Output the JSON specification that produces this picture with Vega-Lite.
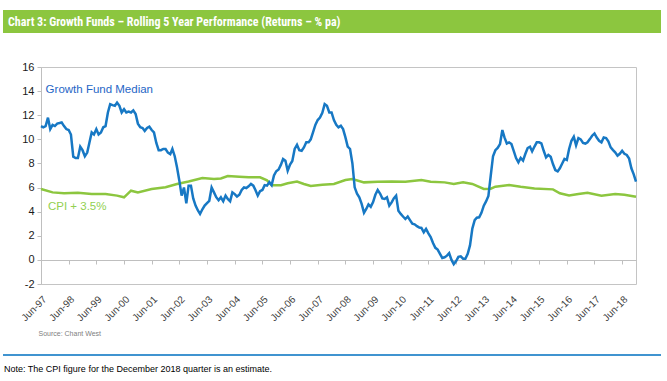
{
  "$schema": "https://vega.github.io/schema/vega-lite/v6.json",
  "padding": {"left": 2, "top": 10, "right": 0, "bottom": 0},
  "background": "white",
  "autosize": {"type": "pad"},
  "config": {"font": "Liberation Sans", "axisY": {"labelOverlap": false}},
  "datasets": {
    "fund": [
      {"date":"1997-06-01","value":11.1},{"date":"1997-07-01","value":11.0},{"date":"1997-08-01","value":11.1},{"date":"1997-09-01","value":11.8},{"date":"1997-10-01","value":10.85},{"date":"1997-11-01","value":11.2},{"date":"1997-12-01","value":11.1},
      {"date":"1998-01-01","value":11.3},{"date":"1998-02-01","value":11.35},{"date":"1998-03-01","value":11.4},{"date":"1998-04-01","value":11.1},{"date":"1998-05-01","value":10.85},{"date":"1998-06-01","value":10.77},{"date":"1998-07-01","value":10.4},{"date":"1998-08-01","value":8.56},{"date":"1998-09-01","value":8.45},{"date":"1998-10-01","value":8.45},{"date":"1998-11-01","value":9.39},{"date":"1998-12-01","value":9.1},
      {"date":"1999-01-01","value":8.6},{"date":"1999-02-01","value":8.9},{"date":"1999-03-01","value":9.7},{"date":"1999-04-01","value":10.57},{"date":"1999-05-01","value":10.4},{"date":"1999-06-01","value":10.85},{"date":"1999-07-01","value":10.4},{"date":"1999-08-01","value":10.57},{"date":"1999-09-01","value":11.0},{"date":"1999-10-01","value":11.1},{"date":"1999-11-01","value":12.23},{"date":"1999-12-01","value":12.92},
      {"date":"2000-01-01","value":12.84},{"date":"2000-02-01","value":12.78},{"date":"2000-03-01","value":13.05},{"date":"2000-04-01","value":12.78},{"date":"2000-05-01","value":12.23},{"date":"2000-06-01","value":12.5},{"date":"2000-07-01","value":12.23},{"date":"2000-08-01","value":12.3},{"date":"2000-09-01","value":12.23},{"date":"2000-10-01","value":12.4},{"date":"2000-11-01","value":12.1},{"date":"2000-12-01","value":11.3},
      {"date":"2001-01-01","value":11.0},{"date":"2001-02-01","value":10.94},{"date":"2001-03-01","value":10.7},{"date":"2001-04-01","value":10.94},{"date":"2001-05-01","value":11.05},{"date":"2001-06-01","value":10.77},{"date":"2001-07-01","value":10.57},{"date":"2001-08-01","value":9.7},{"date":"2001-09-01","value":9.1},{"date":"2001-10-01","value":9.1},{"date":"2001-11-01","value":9.2},{"date":"2001-12-01","value":9.2},
      {"date":"2002-01-01","value":8.9},{"date":"2002-02-01","value":8.77},{"date":"2002-03-01","value":9.2},{"date":"2002-04-01","value":8.6},{"date":"2002-05-01","value":7.68},{"date":"2002-06-01","value":6.57},{"date":"2002-07-01","value":5.33},{"date":"2002-08-01","value":6.0},{"date":"2002-09-01","value":4.7},{"date":"2002-10-01","value":6.16},{"date":"2002-11-01","value":6.16},{"date":"2002-12-01","value":5.1},
      {"date":"2003-01-01","value":4.5},{"date":"2003-02-01","value":4.1},{"date":"2003-03-01","value":3.81},{"date":"2003-04-01","value":4.2},{"date":"2003-05-01","value":4.5},{"date":"2003-06-01","value":4.7},{"date":"2003-07-01","value":4.9},{"date":"2003-08-01","value":6.0},{"date":"2003-09-01","value":5.6},{"date":"2003-10-01","value":5.2},{"date":"2003-11-01","value":4.95},{"date":"2003-12-01","value":5.19},
      {"date":"2004-01-01","value":4.86},{"date":"2004-02-01","value":5.33},{"date":"2004-03-01","value":5.05},{"date":"2004-04-01","value":4.86},{"date":"2004-05-01","value":5.6},{"date":"2004-06-01","value":5.46},{"date":"2004-07-01","value":5.25},{"date":"2004-08-01","value":5.4},{"date":"2004-09-01","value":5.8},{"date":"2004-10-01","value":6.02},{"date":"2004-11-01","value":5.96},{"date":"2004-12-01","value":6.1},
      {"date":"2005-01-01","value":6.3},{"date":"2005-02-01","value":6.16},{"date":"2005-03-01","value":5.8},{"date":"2005-04-01","value":5.33},{"date":"2005-05-01","value":5.7},{"date":"2005-06-01","value":5.8},{"date":"2005-07-01","value":6.2},{"date":"2005-08-01","value":6.16},{"date":"2005-09-01","value":6.45},{"date":"2005-10-01","value":6.2},{"date":"2005-11-01","value":7.0},{"date":"2005-12-01","value":7.35},
      {"date":"2006-01-01","value":7.5},{"date":"2006-02-01","value":7.9},{"date":"2006-03-01","value":8.37},{"date":"2006-04-01","value":8.23},{"date":"2006-05-01","value":7.4},{"date":"2006-06-01","value":7.9},{"date":"2006-07-01","value":8.2},{"date":"2006-08-01","value":9.2},{"date":"2006-09-01","value":9.55},{"date":"2006-10-01","value":9.1},{"date":"2006-11-01","value":9.05},{"date":"2006-12-01","value":9.33},
      {"date":"2007-01-01","value":9.75},{"date":"2007-02-01","value":9.75},{"date":"2007-03-01","value":10.0},{"date":"2007-04-01","value":10.6},{"date":"2007-05-01","value":11.2},{"date":"2007-06-01","value":11.6},{"date":"2007-07-01","value":11.8},{"date":"2007-08-01","value":12.2},{"date":"2007-09-01","value":12.92},{"date":"2007-10-01","value":12.78},{"date":"2007-11-01","value":12.23},{"date":"2007-12-01","value":12.23},
      {"date":"2008-01-01","value":11.6},{"date":"2008-02-01","value":11.2},{"date":"2008-03-01","value":11.0},{"date":"2008-04-01","value":11.13},{"date":"2008-05-01","value":10.85},{"date":"2008-06-01","value":10.16},{"date":"2008-07-01","value":9.4},{"date":"2008-08-01","value":9.2},{"date":"2008-09-01","value":8.0},{"date":"2008-10-01","value":6.02},{"date":"2008-11-01","value":5.5},{"date":"2008-12-01","value":5.19},
      {"date":"2009-01-01","value":4.64},{"date":"2009-02-01","value":3.9},{"date":"2009-03-01","value":4.2},{"date":"2009-04-01","value":4.6},{"date":"2009-05-01","value":4.4},{"date":"2009-06-01","value":4.8},{"date":"2009-07-01","value":5.4},{"date":"2009-08-01","value":5.8},{"date":"2009-09-01","value":5.5},{"date":"2009-10-01","value":5.1},{"date":"2009-11-01","value":5.05},{"date":"2009-12-01","value":5.19},
      {"date":"2010-01-01","value":4.5},{"date":"2010-02-01","value":4.77},{"date":"2010-03-01","value":5.1},{"date":"2010-04-01","value":5.33},{"date":"2010-05-01","value":4.08},{"date":"2010-06-01","value":3.81},{"date":"2010-07-01","value":3.6},{"date":"2010-08-01","value":3.39},{"date":"2010-09-01","value":3.6},{"date":"2010-10-01","value":3.3},{"date":"2010-11-01","value":3.0},{"date":"2010-12-01","value":2.95},
      {"date":"2011-01-01","value":2.8},{"date":"2011-02-01","value":2.68},{"date":"2011-03-01","value":2.65},{"date":"2011-04-01","value":2.29},{"date":"2011-05-01","value":2.57},{"date":"2011-06-01","value":2.2},{"date":"2011-07-01","value":1.9},{"date":"2011-08-01","value":1.4},{"date":"2011-09-01","value":1.0},{"date":"2011-10-01","value":0.85},{"date":"2011-11-01","value":0.5},{"date":"2011-12-01","value":0.16},
      {"date":"2012-01-01","value":0.22},{"date":"2012-02-01","value":0.35},{"date":"2012-03-01","value":0.55},{"date":"2012-04-01","value":0.0},{"date":"2012-05-01","value":-0.35},{"date":"2012-06-01","value":-0.1},{"date":"2012-07-01","value":0.25},{"date":"2012-08-01","value":0.3},{"date":"2012-09-01","value":0.1},{"date":"2012-10-01","value":0.1},{"date":"2012-11-01","value":0.5},{"date":"2012-12-01","value":1.2},
      {"date":"2013-01-01","value":2.6},{"date":"2013-02-01","value":3.3},{"date":"2013-03-01","value":3.5},{"date":"2013-04-01","value":3.53},{"date":"2013-05-01","value":3.9},{"date":"2013-06-01","value":4.5},{"date":"2013-07-01","value":4.85},{"date":"2013-08-01","value":5.3},{"date":"2013-09-01","value":7.0},{"date":"2013-10-01","value":8.6},{"date":"2013-11-01","value":9.1},{"date":"2013-12-01","value":9.28},
      {"date":"2014-01-01","value":9.6},{"date":"2014-02-01","value":10.77},{"date":"2014-03-01","value":10.16},{"date":"2014-04-01","value":9.66},{"date":"2014-05-01","value":9.75},{"date":"2014-06-01","value":9.61},{"date":"2014-07-01","value":9.05},{"date":"2014-08-01","value":8.45},{"date":"2014-09-01","value":8.09},{"date":"2014-10-01","value":8.45},{"date":"2014-11-01","value":8.23},{"date":"2014-12-01","value":8.78},
      {"date":"2015-01-01","value":9.28},{"date":"2015-02-01","value":9.39},{"date":"2015-03-01","value":9.0},{"date":"2015-04-01","value":9.4},{"date":"2015-05-01","value":9.75},{"date":"2015-06-01","value":9.75},{"date":"2015-07-01","value":9.66},{"date":"2015-08-01","value":9.05},{"date":"2015-09-01","value":8.5},{"date":"2015-10-01","value":8.7},{"date":"2015-11-01","value":8.55},{"date":"2015-12-01","value":7.95},
      {"date":"2016-01-01","value":7.45},{"date":"2016-02-01","value":7.34},{"date":"2016-03-01","value":7.6},{"date":"2016-04-01","value":8.0},{"date":"2016-05-01","value":8.37},{"date":"2016-06-01","value":8.28},{"date":"2016-07-01","value":9.2},{"date":"2016-08-01","value":9.88},{"date":"2016-09-01","value":10.21},{"date":"2016-10-01","value":9.5},{"date":"2016-11-01","value":10.1},{"date":"2016-12-01","value":10.0},
      {"date":"2017-01-01","value":9.7},{"date":"2017-02-01","value":9.65},{"date":"2017-03-01","value":9.75},{"date":"2017-04-01","value":10.02},{"date":"2017-05-01","value":10.3},{"date":"2017-06-01","value":10.49},{"date":"2017-07-01","value":10.15},{"date":"2017-08-01","value":9.88},{"date":"2017-09-01","value":9.75},{"date":"2017-10-01","value":10.16},{"date":"2017-11-01","value":10.1},{"date":"2017-12-01","value":9.83},
      {"date":"2018-01-01","value":9.33},{"date":"2018-02-01","value":9.11},{"date":"2018-03-01","value":8.92},{"date":"2018-04-01","value":8.64},{"date":"2018-05-01","value":8.8},{"date":"2018-06-01","value":9.05},{"date":"2018-07-01","value":8.8},{"date":"2018-08-01","value":8.7},{"date":"2018-09-01","value":8.4},{"date":"2018-10-01","value":7.6},{"date":"2018-11-01","value":7.1},{"date":"2018-12-01","value":6.5}
    ],
    "cpi": [
      {"date":"1997-06-01","value":5.88},{"date":"1997-11-01","value":5.6},{"date":"1998-04-01","value":5.52},{"date":"1998-10-01","value":5.57},{"date":"1999-04-01","value":5.46},{"date":"1999-10-01","value":5.46},{"date":"2000-03-01","value":5.33},{"date":"2000-06-01","value":5.19},{"date":"2000-09-01","value":5.74},{"date":"2000-12-01","value":5.6},
      {"date":"2001-06-01","value":5.88},{"date":"2001-12-01","value":6.02},{"date":"2002-05-01","value":6.3},{"date":"2002-10-01","value":6.5},{"date":"2003-04-01","value":6.79},{"date":"2003-09-01","value":6.71},{"date":"2003-12-01","value":6.75},{"date":"2004-03-01","value":6.95},{"date":"2004-08-01","value":6.9},{"date":"2004-12-01","value":6.85},
      {"date":"2005-05-01","value":6.85},{"date":"2005-08-01","value":6.6},{"date":"2005-10-01","value":6.2},{"date":"2006-02-01","value":6.2},{"date":"2006-05-01","value":6.35},{"date":"2006-09-01","value":6.5},{"date":"2006-12-01","value":6.3},{"date":"2007-03-01","value":6.13},{"date":"2007-08-01","value":6.24},{"date":"2008-01-01","value":6.3},
      {"date":"2008-06-01","value":6.63},{"date":"2008-09-01","value":6.71},{"date":"2009-02-01","value":6.43},{"date":"2009-08-01","value":6.48},{"date":"2010-02-01","value":6.5},{"date":"2010-08-01","value":6.48},{"date":"2011-03-01","value":6.63},{"date":"2011-07-01","value":6.48},{"date":"2012-01-01","value":6.43},{"date":"2012-05-01","value":6.3},
      {"date":"2012-09-01","value":6.43},{"date":"2013-01-01","value":6.3},{"date":"2013-06-01","value":5.88},{"date":"2013-09-01","value":5.9},{"date":"2013-11-01","value":6.07},{"date":"2014-05-01","value":6.21},{"date":"2014-10-01","value":6.07},{"date":"2015-04-01","value":5.93},{"date":"2015-12-01","value":5.85},{"date":"2016-03-01","value":5.52},
      {"date":"2016-07-01","value":5.35},{"date":"2016-11-01","value":5.46},{"date":"2017-03-01","value":5.57},{"date":"2017-09-01","value":5.33},{"date":"2018-03-01","value":5.46},{"date":"2018-07-01","value":5.41},{"date":"2018-12-01","value":5.24}
    ],
    "labels": [
      {"label":"Growth Fund Median","date":"1997-08-01","value":14.1},
      {"label":"CPI + 3.5%","date":"1997-09-01","value":4.35}
    ]
  },
  "spacing": 27,
  "vconcat": [
    {
      "width": 620,
      "height": 23,
      "view": {"stroke": null},
      "data": {"values": [{"title": "Chart 3: Growth Funds – Rolling 5 Year Performance (Returns – % pa)"}]},
      "layer": [
        {
          "mark": {"type": "rect", "color": "#8cc63f"},
          "encoding": {"x": {"value": -38}, "x2": {"value": 620}, "y": {"value": 0}, "y2": {"value": 23}}
        },
        {
          "mark": {"type": "text", "align": "left", "baseline": "middle", "font": "Liberation Sans Narrow, Roboto Condensed, Arial Narrow, DejaVu Sans Condensed, Roboto", "fontSize": 12, "fontWeight": "bold", "color": "white"},
          "encoding": {"text": {"field": "title"}, "x": {"value": -33}, "y": {"value": 12}}
        }
      ]
    },
    {
      "spacing": 17,
      "vconcat": [
        {
          "width": 595,
          "height": 217,
          "view": {"stroke": "#c4c4c4", "strokeWidth": 1},
          "resolve": {"axis": {"x": "independent"}},
          "encoding": {
            "y": {
              "field": "value", "type": "quantitative",
              "scale": {"domain": [-2, 16], "nice": false, "zero": false},
              "axis": {
                "values": [-2, 0, 2, 4, 6, 8, 10, 12, 14, 16],
                "labelExpr": "'' + datum.value",
                "labelOverlap": false, "labelBound": false, "labelFlush": false,
                "labelFontSize": 11, "labelColor": "#1a1a1a", "labelPadding": 3,
                "tickSize": 4, "tickColor": "#bfbfbf", "domainColor": "#bfbfbf",
                "grid": false, "title": null, "minExtent": 38, "maxExtent": 38
              }
            }
          },
          "layer": [
            {
              "data": {"name": "cpi"},
              "mark": {"type": "line", "color": "#8cc63f", "strokeWidth": 2.5},
              "encoding": {
                "x": {
                  "field": "date", "type": "temporal",
                  "scale": {"type": "utc", "domain": [{"year": 1997, "month": 6, "date": 1, "utc": true}, {"year": 2018, "month": 12, "date": 1, "utc": true}]},
                  "axis": {
                    "values": [
                      {"year":1997,"month":6,"date":1,"utc":true},{"year":1998,"month":6,"date":1,"utc":true},{"year":1999,"month":6,"date":1,"utc":true},{"year":2000,"month":6,"date":1,"utc":true},{"year":2001,"month":6,"date":1,"utc":true},{"year":2002,"month":6,"date":1,"utc":true},{"year":2003,"month":6,"date":1,"utc":true},{"year":2004,"month":6,"date":1,"utc":true},{"year":2005,"month":6,"date":1,"utc":true},{"year":2006,"month":6,"date":1,"utc":true},{"year":2007,"month":6,"date":1,"utc":true},{"year":2008,"month":6,"date":1,"utc":true},{"year":2009,"month":6,"date":1,"utc":true},{"year":2010,"month":6,"date":1,"utc":true},{"year":2011,"month":6,"date":1,"utc":true},{"year":2012,"month":6,"date":1,"utc":true},{"year":2013,"month":6,"date":1,"utc":true},{"year":2014,"month":6,"date":1,"utc":true},{"year":2015,"month":6,"date":1,"utc":true},{"year":2016,"month":6,"date":1,"utc":true},{"year":2017,"month":6,"date":1,"utc":true},{"year":2018,"month":6,"date":1,"utc":true}
                    ],
                    "labelExpr": "utcFormat(datum.value, '%b-%y')",
                    "labelAngle": -45, "labelAlign": "right", "labelBaseline": "top",
                    "labelFontSize": 10, "labelColor": "#404040", "labelPadding": 10,
                    "labelOverlap": false, "labelBound": false, "labelFlush": false,
                    "ticks": false, "domain": false, "grid": false,
                    "title": "Source: Chant West", "titleFontSize": 7, "titleFontWeight": "normal", "titleColor": "#808080",
                    "titleAnchor": "start", "titleAlign": "left", "titleBaseline": "middle", "titleX": -3, "titleY": 49
                  }
                }
              }
            },
            {
              "data": {"name": "fund"},
              "mark": {"type": "line", "color": "#1778c4", "strokeWidth": 2.5},
              "encoding": {
                "x": {"field": "date", "type": "temporal", "axis": null}
              }
            },
            {
              "data": {"name": "labels"},
              "mark": {"type": "text", "align": "left", "baseline": "middle", "fontSize": 11.5},
              "encoding": {
                "x": {
                  "field": "date", "type": "temporal",
                  "axis": {
                    "orient": "bottom", "offset": -24,
                    "values": [
                      {"year":1997,"month":6,"date":1,"utc":true},{"year":1998,"month":6,"date":1,"utc":true},{"year":1999,"month":6,"date":1,"utc":true},{"year":2000,"month":6,"date":1,"utc":true},{"year":2001,"month":6,"date":1,"utc":true},{"year":2002,"month":6,"date":1,"utc":true},{"year":2003,"month":6,"date":1,"utc":true},{"year":2004,"month":6,"date":1,"utc":true},{"year":2005,"month":6,"date":1,"utc":true},{"year":2006,"month":6,"date":1,"utc":true},{"year":2007,"month":6,"date":1,"utc":true},{"year":2008,"month":6,"date":1,"utc":true},{"year":2009,"month":6,"date":1,"utc":true},{"year":2010,"month":6,"date":1,"utc":true},{"year":2011,"month":6,"date":1,"utc":true},{"year":2012,"month":6,"date":1,"utc":true},{"year":2013,"month":6,"date":1,"utc":true},{"year":2014,"month":6,"date":1,"utc":true},{"year":2015,"month":6,"date":1,"utc":true},{"year":2016,"month":6,"date":1,"utc":true},{"year":2017,"month":6,"date":1,"utc":true},{"year":2018,"month":6,"date":1,"utc":true}
                    ],
                    "labels": false, "ticks": true, "tickSize": 4, "tickColor": "#bfbfbf",
                    "domain": true, "domainColor": "#bfbfbf", "grid": false, "title": null
                  }
                },
                "text": {"field": "label"},
                "color": {
                  "field": "label", "type": "nominal",
                  "scale": {"domain": ["Growth Fund Median", "CPI + 3.5%"], "range": ["#1f66c6", "#92d050"]},
                  "legend": null
                }
              }
            }
          ]
        },
        {
          "width": 620,
          "height": 2,
          "view": {"stroke": null},
          "data": {"values": [{"note": "Note:  The CPI figure for the December 2018 quarter is an estimate."}]},
          "mark": {"type": "rule", "color": "#0070c0", "strokeWidth": 1.5},
          "encoding": {"x": {"value": -38}, "x2": {"value": 620}, "y": {"value": 0}},
          "title": {"text": "Note:  The CPI figure for the December 2018 quarter is an estimate.", "orient": "bottom", "anchor": "start", "frame": "group", "dx": -37, "offset": 8, "fontSize": 9, "fontWeight": "normal", "color": "#000000", "font": "Liberation Sans"}
        }
      ]
    }
  ]
}
